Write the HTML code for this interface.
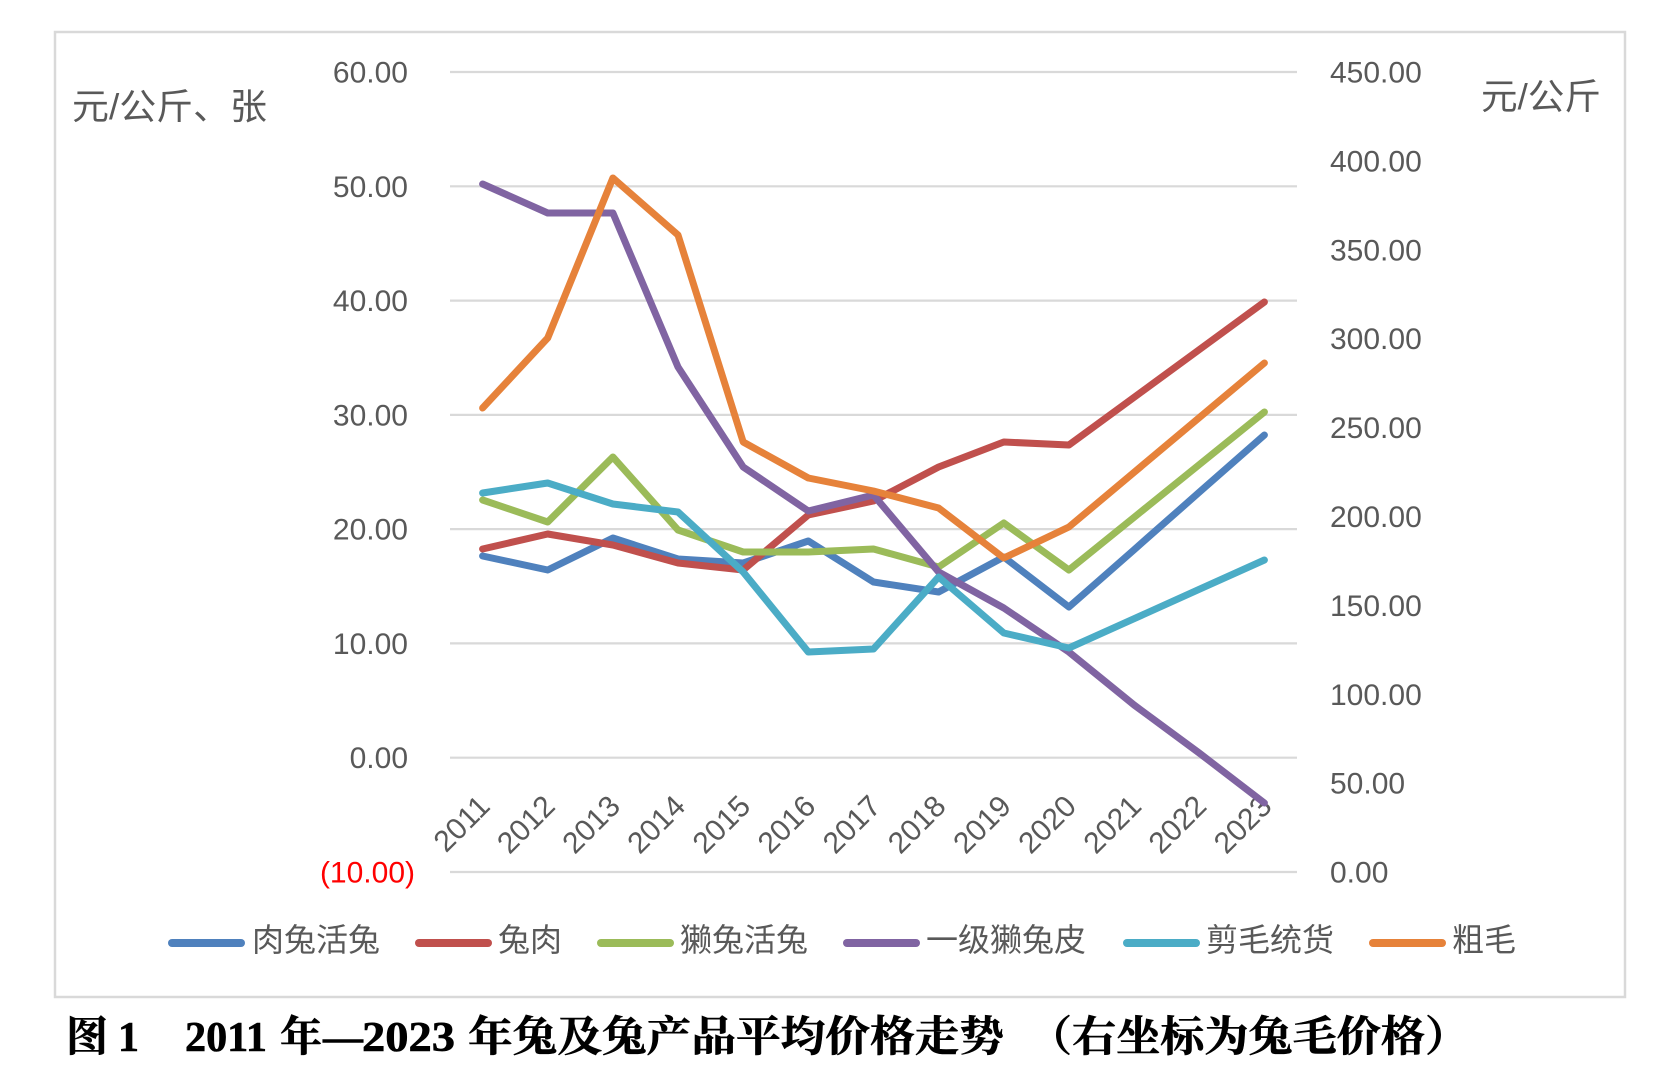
<!DOCTYPE html>
<html>
<head>
<meta charset="utf-8">
<style>
  html,body{margin:0;padding:0;background:#fff;}
  svg{display:block;}
  .tick{font-family:"Liberation Sans",sans-serif;font-size:30px;fill:#595959;}
  .yr{font-family:"Liberation Sans",sans-serif;font-size:30px;fill:#595959;}
  .cjk{font-family:"Liberation Sans","Noto Sans CJK SC",sans-serif;fill:#595959;}
  .ttl{font-family:"Liberation Serif","Noto Serif CJK SC",serif;font-weight:bold;fill:#000;font-size:42px;stroke:#000;stroke-width:0.6px;}
</style>
</head>
<body>
<svg width="1671" height="1086" viewBox="0 0 1671 1086" xmlns="http://www.w3.org/2000/svg">
  <rect x="0" y="0" width="1671" height="1086" fill="#fff"/>
  <!-- chart border -->
  <rect x="55" y="32" width="1570" height="965" fill="none" stroke="#d9d9d9" stroke-width="2.5"/>

  <!-- gridlines -->
  <g stroke="#d9d9d9" stroke-width="2.2">
    <line x1="450" y1="72" x2="1297" y2="72"/>
    <line x1="450" y1="186.3" x2="1297" y2="186.3"/>
    <line x1="450" y1="300.6" x2="1297" y2="300.6"/>
    <line x1="450" y1="414.9" x2="1297" y2="414.9"/>
    <line x1="450" y1="529.1" x2="1297" y2="529.1"/>
    <line x1="450" y1="643.4" x2="1297" y2="643.4"/>
    <line x1="450" y1="757.7" x2="1297" y2="757.7"/>
    <line x1="450" y1="872" x2="1297" y2="872"/>
  </g>

  <!-- left axis labels -->
  <g class="tick" text-anchor="end">
    <text x="408" y="82.5">60.00</text>
    <text x="408" y="196.8">50.00</text>
    <text x="408" y="311.1">40.00</text>
    <text x="408" y="425.4">30.00</text>
    <text x="408" y="539.6">20.00</text>
    <text x="408" y="653.9">10.00</text>
    <text x="408" y="768.2">0.00</text>
    <text x="415" y="882.5" fill="#ff0000" style="fill:#ff0000">(10.00)</text>
  </g>

  <!-- right axis labels -->
  <g class="tick" text-anchor="start">
    <text x="1330" y="82.5">450.00</text>
    <text x="1330" y="171.4">400.00</text>
    <text x="1330" y="260.3">350.00</text>
    <text x="1330" y="349.2">300.00</text>
    <text x="1330" y="438.1">250.00</text>
    <text x="1330" y="527">200.00</text>
    <text x="1330" y="615.9">150.00</text>
    <text x="1330" y="704.8">100.00</text>
    <text x="1330" y="793.7">50.00</text>
    <text x="1330" y="882.5">0.00</text>
  </g>

  <!-- axis titles -->
  <text class="cjk" x="72" y="119" font-size="36" textLength="195" lengthAdjust="spacingAndGlyphs">元/公斤、张</text>
  <text class="cjk" x="1481" y="109" font-size="36" textLength="120" lengthAdjust="spacingAndGlyphs">元/公斤</text>

  <!-- year labels -->
  <g class="yr" text-anchor="end">
    <text transform="translate(491.6,808) rotate(-45)">2011</text>
    <text transform="translate(556.7,808) rotate(-45)">2012</text>
    <text transform="translate(621.9,808) rotate(-45)">2013</text>
    <text transform="translate(687,808) rotate(-45)">2014</text>
    <text transform="translate(752.2,808) rotate(-45)">2015</text>
    <text transform="translate(817.3,808) rotate(-45)">2016</text>
    <text transform="translate(882.5,808) rotate(-45)">2017</text>
    <text transform="translate(947.6,808) rotate(-45)">2018</text>
    <text transform="translate(1012.8,808) rotate(-45)">2019</text>
    <text transform="translate(1077.9,808) rotate(-45)">2020</text>
    <text transform="translate(1143.1,808) rotate(-45)">2021</text>
    <text transform="translate(1208.2,808) rotate(-45)">2022</text>
    <text transform="translate(1273.4,808) rotate(-45)">2023</text>
  </g>

  <!-- series -->
  <g fill="none" stroke-width="7" stroke-linejoin="round" stroke-linecap="round">
    <polyline stroke="#4F81BD" points="482.6,556 547.7,570 612.9,538 678,559 743.2,563 808.3,541 873.5,582 938.6,592 1003.8,557 1068.9,607 1134.1,549.7 1199.2,492.3 1264.4,435"/>
    <polyline stroke="#C0504D" points="482.6,549 547.7,534 612.9,545 678,563 743.2,570 808.3,515 873.5,501 938.6,467 1003.8,442 1068.9,445 1134.1,397.3 1199.2,349.7 1264.4,302"/>
    <polyline stroke="#9BBB59" points="482.6,500 547.7,522 612.9,457 678,530 743.2,552 808.3,552 873.5,549 938.6,567 1003.8,523 1068.9,570 1134.1,517.3 1199.2,464.7 1264.4,412"/>
    <polyline stroke="#8064A2" points="482.6,184 547.7,213 612.9,213 678,367 743.2,467 808.3,511 873.5,495 938.6,572 1003.8,608 1068.9,652 1134.1,705 1199.2,753 1264.4,803"/>
    <polyline stroke="#4BACC6" points="482.6,493 547.7,483 612.9,504 678,512 743.2,572 808.3,652 873.5,649 938.6,577 1003.8,633 1068.9,648 1134.1,618.7 1199.2,589.3 1264.4,560"/>
    <polyline stroke="#E6823A" points="482.6,408 547.7,338 612.9,178 678,235 743.2,442 808.3,478 873.5,491 938.6,508 1003.8,558 1068.9,527 1134.1,472.3 1199.2,417.7 1264.4,363"/>
  </g>

  <!-- legend -->
  <g stroke-width="8" stroke-linecap="round">
    <line x1="172" y1="943" x2="241" y2="943" stroke="#4F81BD"/>
    <line x1="419" y1="943" x2="488" y2="943" stroke="#C0504D"/>
    <line x1="601" y1="943" x2="670" y2="943" stroke="#9BBB59"/>
    <line x1="847" y1="943" x2="916" y2="943" stroke="#8064A2"/>
    <line x1="1127" y1="943" x2="1196" y2="943" stroke="#4BACC6"/>
    <line x1="1373" y1="943" x2="1442" y2="943" stroke="#E6823A"/>
  </g>
  <g class="cjk" font-size="32">
    <text x="252" y="951" textLength="128" lengthAdjust="spacingAndGlyphs">肉兔活兔</text>
    <text x="498" y="951" textLength="64" lengthAdjust="spacingAndGlyphs">兔肉</text>
    <text x="680" y="951" textLength="128" lengthAdjust="spacingAndGlyphs">獭兔活兔</text>
    <text x="926" y="951" textLength="160" lengthAdjust="spacingAndGlyphs">一级獭兔皮</text>
    <text x="1206" y="951" textLength="128" lengthAdjust="spacingAndGlyphs">剪毛统货</text>
    <text x="1452" y="951" textLength="64" lengthAdjust="spacingAndGlyphs">粗毛</text>
  </g>

  <!-- caption -->
  <g class="ttl">
    <text x="66" y="1051">图</text>
    <text x="118" y="1051">1</text>
    <text x="185" y="1051" textLength="82" lengthAdjust="spacingAndGlyphs">2011</text>
    <text x="280" y="1051">年</text>
    <text x="323" y="1051" textLength="40" lengthAdjust="spacingAndGlyphs">—</text>
    <text x="362" y="1051" textLength="93" lengthAdjust="spacingAndGlyphs">2023</text>
    <text x="468" y="1051" textLength="536" lengthAdjust="spacingAndGlyphs">年兔及兔产品平均价格走势</text>
    <text x="1028" y="1051" textLength="441" lengthAdjust="spacingAndGlyphs">（右坐标为兔毛价格）</text>
  </g>
</svg>
</body>
</html>
